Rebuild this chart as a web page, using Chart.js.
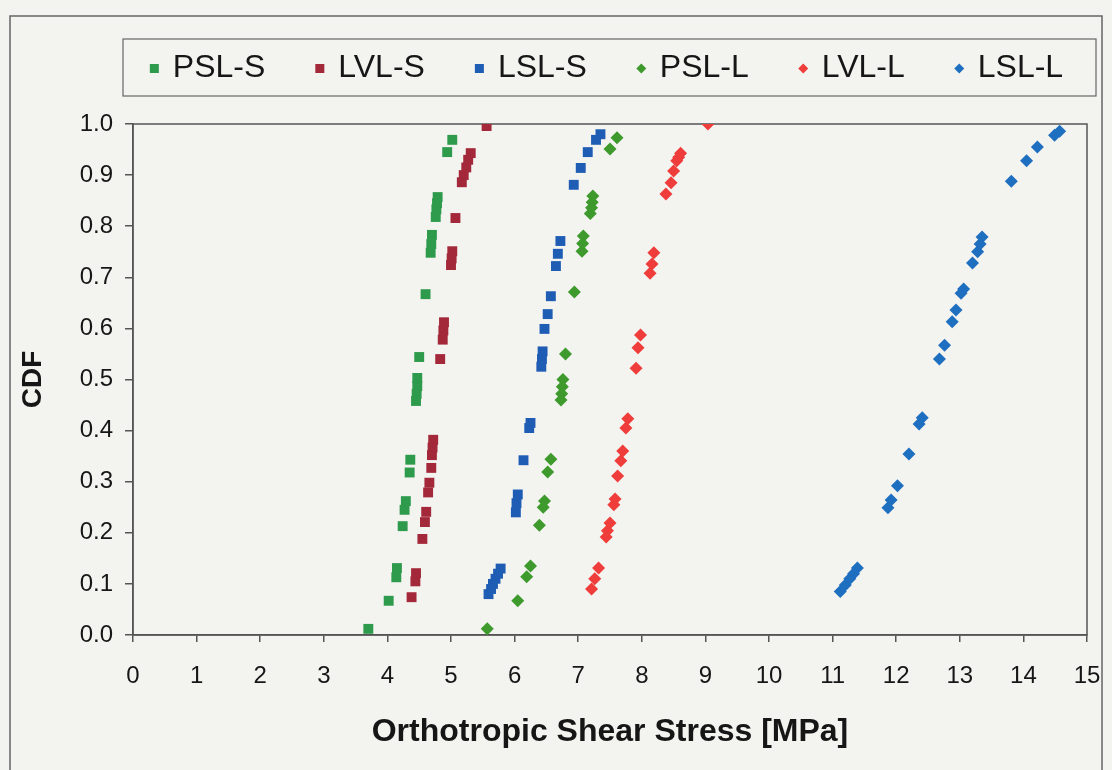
<!DOCTYPE html>
<html lang="en">
<head>
    <meta charset="UTF-8">
    <title>CDF of orthotropic shear stress</title>
    <script src="https://cdn.jsdelivr.net/npm/chart.js@4.4.1/dist/chart.umd.min.js"></script>
    <style>
        html, body {
            margin: 0;
            padding: 0;
            background: #f3f3f0;
        }

        .chart-wrap {
            width: 1112px;
            height: 770px;
        }
    </style>
</head>
<body>
    <div class="chart-wrap">
        <canvas id="cdfChart" width="1112" height="770"></canvas>
    </div>

    <script>
        // values (stress in MPa, CDF)
        const pslS_x   = [3.70, 4.02, 4.14, 4.15, 4.24, 4.27, 4.29, 4.35, 4.36, 4.45, 4.46, 4.47, 4.47, 4.50, 4.60, 4.68, 4.69, 4.70, 4.76, 4.77, 4.78, 4.79, 4.94, 5.02];
        const pslS_cdf = [0.012, 0.067, 0.113, 0.131, 0.213, 0.245, 0.262, 0.318, 0.343, 0.458, 0.472, 0.487, 0.503, 0.544, 0.667, 0.748, 0.765, 0.783, 0.818, 0.833, 0.845, 0.857, 0.945, 0.969];

        const lvlS_x   = [4.38, 4.44, 4.45, 4.55, 4.59, 4.61, 4.64, 4.66, 4.69, 4.70, 4.71, 4.72, 4.83, 4.87, 4.88, 4.89, 5.00, 5.01, 5.02, 5.07, 5.17, 5.20, 5.24, 5.27, 5.31, 5.56];
        const lvlS_cdf = [0.074, 0.105, 0.121, 0.188, 0.221, 0.241, 0.279, 0.298, 0.327, 0.352, 0.367, 0.382, 0.540, 0.578, 0.596, 0.612, 0.724, 0.737, 0.751, 0.816, 0.886, 0.900, 0.915, 0.930, 0.943, 0.996];

        const lslS_x   = [5.59, 5.63, 5.66, 5.70, 5.74, 5.78, 6.02, 6.03, 6.05, 6.14, 6.23, 6.25, 6.42, 6.43, 6.44, 6.47, 6.52, 6.57, 6.65, 6.68, 6.72, 6.93, 7.04, 7.15, 7.28, 7.35];
        const lslS_cdf = [0.080, 0.090, 0.100, 0.110, 0.120, 0.130, 0.240, 0.258, 0.275, 0.342, 0.405, 0.415, 0.525, 0.540, 0.555, 0.599, 0.628, 0.663, 0.722, 0.746, 0.771, 0.881, 0.914, 0.945, 0.969, 0.980];

        const pslL_x   = [5.57, 6.05, 6.19, 6.25, 6.39, 6.45, 6.47, 6.52, 6.57, 6.73, 6.74, 6.75, 6.76, 6.80, 6.94, 7.06, 7.07, 7.08, 7.19, 7.21, 7.22, 7.23, 7.50, 7.61];
        const pslL_cdf = [0.012, 0.067, 0.114, 0.135, 0.215, 0.250, 0.262, 0.319, 0.344, 0.460, 0.472, 0.486, 0.500, 0.550, 0.671, 0.751, 0.766, 0.781, 0.825, 0.836, 0.847, 0.859, 0.951, 0.973];

        const lvlL_x   = [7.21, 7.26, 7.32, 7.44, 7.46, 7.50, 7.56, 7.58, 7.62, 7.67, 7.70, 7.75, 7.78, 7.91, 7.94, 7.98, 8.13, 8.16, 8.19, 8.38, 8.46, 8.50, 8.55, 8.58, 8.61, 9.04];
        const lvlL_cdf = [0.090, 0.110, 0.131, 0.192, 0.204, 0.219, 0.255, 0.266, 0.311, 0.341, 0.360, 0.405, 0.423, 0.522, 0.562, 0.587, 0.708, 0.726, 0.748, 0.863, 0.885, 0.908, 0.928, 0.935, 0.943, 1.000];

        const lslL_x   = [11.12, 11.20, 11.27, 11.33, 11.39, 11.87, 11.92, 12.02, 12.20, 12.36, 12.41, 12.68, 12.76, 12.88, 12.94, 13.02, 13.06, 13.20, 13.28, 13.32, 13.35, 13.81, 14.05, 14.22, 14.49, 14.57];
        const lslL_cdf = [0.085, 0.098, 0.110, 0.120, 0.131, 0.249, 0.264, 0.292, 0.354, 0.413, 0.425, 0.540, 0.567, 0.613, 0.636, 0.669, 0.677, 0.728, 0.750, 0.765, 0.779, 0.888, 0.928, 0.955, 0.978, 0.986];

        const seriesNames = ['PSL-S', 'LVL-S', 'LSL-S', 'PSL-L', 'LVL-L', 'LSL-L'];
        const xTicks = [0, 1, 2, 3, 4, 5, 6, 7, 8, 9, 10, 11, 12, 13, 14, 15];
        const yTicks = [0.0, 0.1, 0.2, 0.3, 0.4, 0.5, 0.6, 0.7, 0.8, 0.9, 1.0];

        function toPoints(xs, ys) {
            return xs.map((x, i) => ({ x: x, y: ys[i] }));
        }

        const axisColor = '#555555';
        const textColor = '#161616';
        const fontFamily = '"Liberation Sans", Arial, sans-serif';

        // background, outer frame and the box round the plot area
        const framePlugin = {
            id: 'frame',
            beforeDraw(chart) {
                const ctx = chart.ctx;
                ctx.save();
                ctx.fillStyle = '#f3f3f0';
                ctx.fillRect(0, 0, chart.width, chart.height);
                ctx.strokeStyle = '#666';
                ctx.lineWidth = 1.5;
                ctx.strokeRect(10, 16, chart.width - 20, chart.height - 10);
                ctx.restore();
            },
            beforeDatasetsDraw(chart) {
                const a = chart.chartArea;
                const ctx = chart.ctx;
                ctx.save();
                ctx.strokeStyle = axisColor;
                ctx.lineWidth = 1.5;
                ctx.strokeRect(a.left, a.top, a.right - a.left, a.bottom - a.top);
                ctx.restore();
            }
        };

        // legend in a box above the plot, like the original
        const boxLegend = {
            id: 'boxLegend',
            afterDraw(chart) {
                const ctx = chart.ctx;
                const box = { left: 123, top: 39, right: 1096, bottom: 96 };
                const markerW = 9, markerGap = 14, itemGap = 50;
                ctx.save();
                ctx.strokeStyle = '#666';
                ctx.lineWidth = 1.2;
                ctx.strokeRect(box.left, box.top, box.right - box.left, box.bottom - box.top);

                ctx.font = '32px ' + fontFamily;
                ctx.textBaseline = 'middle';
                const items = chart.data.datasets.map(ds => ({
                    ds: ds,
                    w: markerW + markerGap + ctx.measureText(ds.label).width
                }));
                const total = items.reduce((s, it) => s + it.w, 0) + itemGap * (items.length - 1);
                let x = (box.left + box.right) / 2 - total / 2 - 3;
                const cy = (box.top + box.bottom) / 2 + 1;

                items.forEach(it => {
                    const cx = x + markerW / 2;
                    ctx.fillStyle = it.ds.backgroundColor;
                    if (it.ds.pointStyle === 'rectRot') {
                        ctx.beginPath();
                        ctx.moveTo(cx, cy - 5);
                        ctx.lineTo(cx + 5, cy);
                        ctx.lineTo(cx, cy + 5);
                        ctx.lineTo(cx - 5, cy);
                        ctx.closePath();
                        ctx.fill();
                    } else {
                        ctx.fillRect(cx - 4.5, cy - 4.5, 9, 9);
                    }
                    ctx.fillStyle = textColor;
                    ctx.textAlign = 'left';
                    ctx.fillText(it.ds.label, x + markerW + markerGap, cy);
                    x += it.w + itemGap;
                });
                ctx.restore();
            }
        };

        const squareR = 7;
        const diamondR = 6.5;

        const ctx = document.getElementById('cdfChart').getContext('2d');
        new Chart(ctx, {
            type: 'scatter',
            data: {
                datasets: [
                    { label: seriesNames[0], data: toPoints(pslS_x, pslS_cdf), backgroundColor: '#2e9a4c', pointStyle: 'rect', pointRadius: squareR },
                    { label: seriesNames[1], data: toPoints(lvlS_x, lvlS_cdf), backgroundColor: '#a3283a', pointStyle: 'rect', pointRadius: squareR },
                    { label: seriesNames[2], data: toPoints(lslS_x, lslS_cdf), backgroundColor: '#1f5db5', pointStyle: 'rect', pointRadius: squareR },
                    { label: seriesNames[3], data: toPoints(pslL_x, pslL_cdf), backgroundColor: '#3e9a2c', pointStyle: 'rectRot', pointRadius: diamondR },
                    { label: seriesNames[4], data: toPoints(lvlL_x, lvlL_cdf), backgroundColor: '#ee3d3a', pointStyle: 'rectRot', pointRadius: diamondR },
                    { label: seriesNames[5], data: toPoints(lslL_x, lslL_cdf), backgroundColor: '#1f6fc0', pointStyle: 'rectRot', pointRadius: diamondR }
                ].map(ds => Object.assign(ds, { borderWidth: 0, pointHoverRadius: ds.pointRadius }))
            },
            options: {
                responsive: false,
                animation: false,
                layout: {
                    padding: { left: 12, top: 124, right: 25, bottom: 0 }
                },
                plugins: {
                    legend: { display: false },
                    tooltip: { enabled: false }
                },
                scales: {
                    x: {
                        type: 'linear',
                        min: xTicks[0],
                        max: xTicks[xTicks.length - 1],
                        afterBuildTicks: scale => { scale.ticks = xTicks.map(v => ({ value: v })); },
                        afterFit: scale => {
                            scale.height = 135;
                            // end labels may hang over the plot edges, as in the original
                            scale.paddingLeft = 0;
                            scale.paddingRight = 0;
                        },
                        grid: { drawOnChartArea: false, drawTicks: true, tickLength: 7, color: axisColor, lineWidth: 1.5 },
                        border: { display: true, color: axisColor, width: 1.5 },
                        ticks: {
                            padding: 20,
                            color: textColor,
                            font: { family: fontFamily, size: 24 },
                            callback: v => String(v)
                        },
                        title: {
                            display: true,
                            text: 'Orthotropic Shear Stress [MPa]',
                            color: textColor,
                            font: { family: fontFamily, size: 32, weight: 'bold' },
                            padding: { top: 0, bottom: 19 }
                        }
                    },
                    y: {
                        type: 'linear',
                        min: yTicks[0],
                        max: yTicks[yTicks.length - 1],
                        afterBuildTicks: scale => { scale.ticks = yTicks.map(v => ({ value: v })); },
                        afterFit: scale => { scale.width = 121; },
                        grid: { drawOnChartArea: false, drawTicks: true, tickLength: 8, color: axisColor, lineWidth: 1.5 },
                        border: { display: true, color: axisColor, width: 1.5 },
                        ticks: {
                            padding: 12,
                            color: textColor,
                            font: { family: fontFamily, size: 24 },
                            callback: v => Number(v).toFixed(1)
                        },
                        title: {
                            display: true,
                            text: 'CDF',
                            color: textColor,
                            font: { family: fontFamily, size: 28, weight: 'bold' },
                            padding: { top: 4, bottom: 4 }
                        }
                    }
                }
            },
            plugins: [framePlugin, boxLegend]
        });
    </script>
</body>
</html>
